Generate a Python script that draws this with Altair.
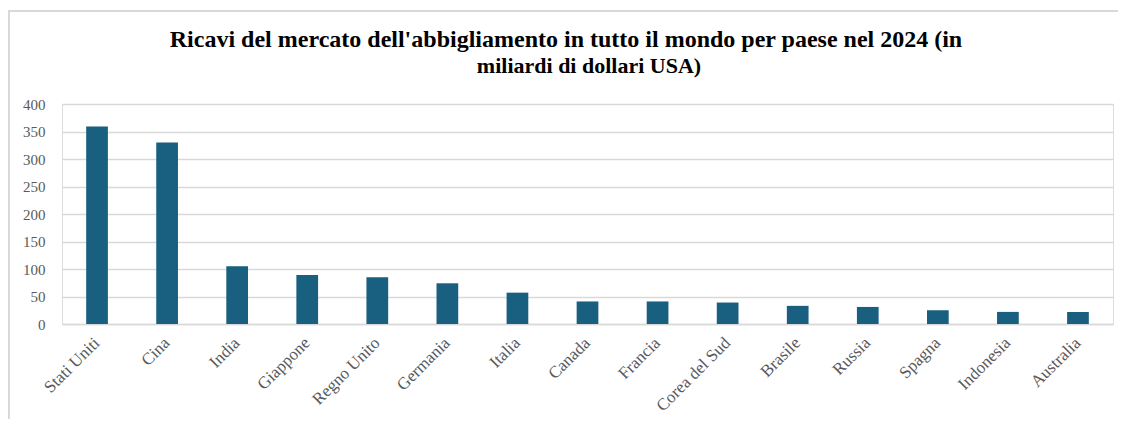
import altair as alt
import pandas as pd

countries = ["Stati Uniti", "Cina", "India", "Giappone", "Regno Unito", "Germania",
             "Italia", "Canada", "Francia", "Corea del Sud", "Brasile", "Russia",
             "Spagna", "Indonesia", "Australia"]
revenues = [359, 330, 105, 89, 85, 74, 57, 41, 41, 39, 33, 31, 25, 22, 22]
y_ticks = [0, 50, 100, 150, 200, 250, 300, 350, 400]

title_lines = ["Ricavi del mercato dell'abbigliamento in tutto il mondo per paese nel 2024 (in",
               "miliardi di dollari USA)"]

df = pd.DataFrame({"paese": countries, "ricavi": revenues})
one = pd.DataFrame({"k": [0]})

FONT = "Liberation Serif"
W, H = 1051, 220

bars = alt.Chart(df).mark_bar(color="#185F80").encode(
    x=alt.X("paese:N", sort=countries, title=None,
            scale=alt.Scale(paddingInner=0.69, paddingOuter=0.345),
            axis=alt.Axis(labelAngle=-45, labelAlign="right", labelBaseline="middle",
                          labelFont=FONT, labelFontSize=17, labelColor="#595959",
                          labelPadding=16, ticks=False, domainColor="#d9d9d9",
                          domainWidth=1.5, grid=False)),
    y=alt.Y("ricavi:Q", title=None,
            scale=alt.Scale(domain=[0, 400], nice=False),
            axis=alt.Axis(values=y_ticks, labelFont=FONT, labelFontSize=15,
                          labelColor="#595959", labelPadding=17, ticks=False,
                          domain=False, gridColor="#d9d9d9", gridWidth=1.5)),
)

border = alt.Chart(one).mark_rect(fill=None, stroke="#d9d9d9", strokeWidth=2).encode(
    x=alt.value(-53), x2=alt.value(W + 40),
    y=alt.value(-93), y2=alt.value(H + 140),
)

title1 = alt.Chart(one).mark_text(font=FONT, fontSize=24, fontWeight="bold", color="#000000",
                                  align="center", baseline="alphabetic").encode(
    x=alt.value(504), y=alt.value(-57), text=alt.value(title_lines[0]))
title2 = alt.Chart(one).mark_text(font=FONT, fontSize=22, fontWeight="bold", color="#000000",
                                  align="center", baseline="alphabetic").encode(
    x=alt.value(527), y=alt.value(-31), text=alt.value(title_lines[1]))

chart = alt.layer(border, bars, title1, title2).properties(
    width=W, height=H,
    autosize=alt.AutoSizeParams(type="none"),
    padding={"left": 54, "top": 96, "right": 5, "bottom": 95},
).configure_view(stroke="transparent", strokeWidth=0).configure(background="white")

chart.save("out.html", embed_options={"renderer": "svg", "actions": False})
